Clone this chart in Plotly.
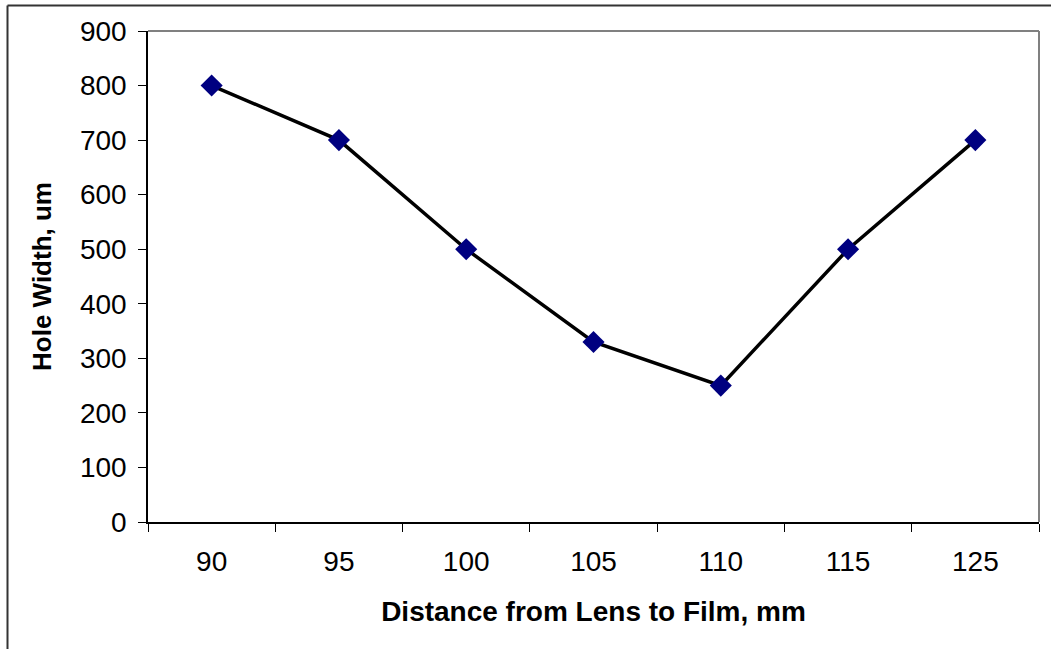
import plotly.graph_objects as go

categories = ["90", "95", "100", "105", "110", "115", "125"]
hole_width = [800, 700, 500, 330, 250, 500, 700]
y_ticks = [0, 100, 200, 300, 400, 500, 600, 700, 800, 900]

FONT = "Liberation Sans, Arial, sans-serif"

fig = go.Figure()
fig.add_trace(go.Scatter(
    x=categories, y=hole_width, mode="lines+markers",
    line=dict(color="black", width=3.5),
    marker=dict(symbol="diamond", size=17, color="#000080"),
    showlegend=False,
))

L, T, R, B = 148, 31, 12, 127
W, H = 1051, 649
pw, ph = W - L - R, H - T - B

def px(x):
    return (x - L) / pw

def py(y):
    return (H - B - y) / ph

fig.update_layout(
    width=W, height=H,
    margin=dict(l=L, r=R, t=T, b=B, pad=0),
    paper_bgcolor="white", plot_bgcolor="white",
    font=dict(family=FONT, color="black", size=28),
    xaxis=dict(
        type="category", range=[-0.5, 6.5],
        tickson="boundaries", ticks="outside", ticklen=8, tickwidth=1, tickcolor="black",
        showline=True, linecolor="black", linewidth=1.5,
        showgrid=False, zeroline=False,
        ticklabelstandoff=14,
        tickfont=dict(size=28),
        title=dict(text="<b>Distance from Lens to Film, mm</b>", font=dict(size=28), standoff=25),
    ),
    yaxis=dict(
        range=[0, 900], tickvals=y_ticks,
        ticks="outside", ticklen=8, tickwidth=1, tickcolor="black",
        showline=True, linecolor="black", linewidth=1.5,
        showgrid=False, zeroline=False,
        ticklabelstandoff=6,
        tickfont=dict(size=28),
        title=dict(text="<b>Hole Width, um</b>", font=dict(size=26), standoff=21),
    ),
    shapes=[
        # plot area top and right border (gray)
        dict(type="line", xref="paper", yref="paper", x0=0, x1=1, y0=1, y1=1,
             line=dict(color="#808080", width=2)),
        dict(type="line", xref="paper", yref="paper", x0=1, x1=1, y0=0, y1=1,
             line=dict(color="#808080", width=2)),
        # chart area border (left and top visible)
        dict(type="line", xref="paper", yref="paper", x0=px(7.5), x1=px(7.5), y0=py(5.5), y1=py(660),
             line=dict(color="#333333", width=2)),
        dict(type="line", xref="paper", yref="paper", x0=px(7.5), x1=px(1060), y0=py(5.5), y1=py(5.5),
             line=dict(color="#333333", width=2)),
    ],
)

fig.write_html("out.html")
